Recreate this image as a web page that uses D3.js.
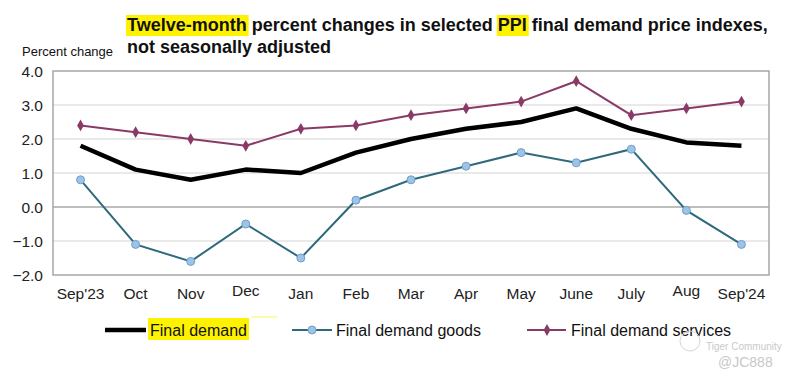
<!DOCTYPE html>
<html>
<head>
<meta charset="utf-8">
<script src="https://cdn.jsdelivr.net/npm/d3@7"></script>
<style>
  html, body { margin: 0; padding: 0; background: #fff; }
  svg { display: block; font-family: "Liberation Sans", Arial, sans-serif; }
</style>
</head>
<body>
<svg id="chart" width="788" height="379"></svg>
<script>
// PPI twelve-month changes, Sep 2023 - Sep 2024
const months = ["Sep'23", "Oct", "Nov", "Dec", "Jan", "Feb", "Mar", "Apr", "May", "June", "July", "Aug", "Sep'24"];
const finalDemand = [1.8, 1.1, 0.8, 1.1, 1.0, 1.6, 2.0, 2.3, 2.5, 2.9, 2.3, 1.9, 1.8];
const finalGoods = [0.8, -1.1, -1.6, -0.5, -1.5, 0.2, 0.8, 1.2, 1.6, 1.3, 1.7, -0.1, -1.1];
const finalServices = [2.4, 2.2, 2.0, 1.8, 2.3, 2.4, 2.7, 2.9, 3.1, 3.7, 2.7, 2.9, 3.1];
const yTicks = [-2, -1, 0, 1, 2, 3, 4];

const svg = d3.select("#chart");
const plot = { left: 53, right: 769, top: 71, bottom: 275 };

const x = d3.scaleBand().domain(months).range([plot.left, plot.right]);
const xc = m => x(m) + x.bandwidth() / 2;
const y = d3.scaleLinear().domain([-2, 4]).range([plot.bottom, plot.top]);

const hl = "#fff200";

// title, with highlights behind "Twelve-month" and "PPI"
const hlLayer = svg.append("g");
const t1 = svg.append("text")
  .attr("x", 127).attr("y", 31)
  .attr("font-size", 18).attr("font-weight", "bold").attr("fill", "#111");
const parts = [
  { s: "Twelve-month", mark: true },
  { s: " percent changes in selected ", mark: false },
  { s: "PPI", mark: true },
  { s: " final demand price indexes,", mark: false }
];
parts.forEach(p => t1.append("tspan").text(p.s));
let pos = 0;
parts.forEach(p => {
  if (p.mark) {
    const node = t1.node();
    const x0 = node.getStartPositionOfChar(pos).x;
    const x1 = node.getEndPositionOfChar(pos + p.s.length - 1).x;
    hlLayer.append("rect").attr("x", x0 - 1).attr("y", 15)
      .attr("width", x1 - x0 + 3).attr("height", 21).attr("fill", hl);
  }
  pos += p.s.length;
});
svg.append("text")
  .attr("x", 127).attr("y", 53)
  .attr("font-size", 18).attr("font-weight", "bold").attr("fill", "#111")
  .text("not seasonally adjusted");

svg.append("text")
  .attr("x", 22).attr("y", 56)
  .attr("font-family", "'Liberation Sans Narrow', 'Liberation Sans', Arial, sans-serif")
  .attr("font-size", 13).attr("fill", "#111")
  .text("Percent change");

// gridlines
svg.append("g")
  .selectAll("line")
  .data(yTicks.filter(t => t > -2 && t < 4))
  .join("line")
  .attr("x1", plot.left).attr("x2", plot.right)
  .attr("y1", d => y(d)).attr("y2", d => y(d))
  .attr("stroke", d => d === 0 ? "#7f7f7f" : "#d4d4d4")
  .attr("stroke-width", d => d === 0 ? 1.2 : 1);

// plot frame
svg.append("rect")
  .attr("x", plot.left).attr("y", plot.top)
  .attr("width", plot.right - plot.left).attr("height", plot.bottom - plot.top)
  .attr("fill", "none").attr("stroke", "#a6a6a6").attr("stroke-width", 1.5);

// y axis labels
const yAxis = svg.append("g")
  .attr("transform", `translate(${plot.left - 10},0)`)
  .call(d3.axisLeft(y).tickValues(yTicks).tickFormat(d3.format(".1f")).tickSize(0));
yAxis.select(".domain").remove();
yAxis.selectAll("text")
  .attr("font-size", 15.5).attr("fill", "#222")
  .attr("font-family", "'Liberation Sans', Arial, sans-serif")
  .attr("dy", "0.35em").attr("x", 0);

// x axis labels
const xAxis = svg.append("g")
  .attr("transform", `translate(0,${plot.bottom})`)
  .call(d3.axisBottom(x).tickSize(0));
xAxis.select(".domain").remove();
xAxis.selectAll("text")
  .attr("font-size", 15.5).attr("fill", "#222")
  .attr("font-family", "'Liberation Sans', Arial, sans-serif")
  .attr("y", d => (d === "Dec" || d === "Aug") ? 10 : 13)
  .attr("dy", "0.71em");

const line = d3.line().x((d, i) => xc(months[i])).y(d => y(d));

const colGoods = "#2f6a7c";
const colServ = "#8a3a66";

// services
svg.append("path").datum(finalServices)
  .attr("d", line).attr("fill", "none")
  .attr("stroke", colServ).attr("stroke-width", 2);
svg.append("g").selectAll("path")
  .data(finalServices)
  .join("path")
  .attr("d", d3.symbol(d3.symbolDiamond, 40))
  .attr("transform", (d, i) => `translate(${xc(months[i])},${y(d)})`)
  .attr("fill", colServ);

// goods
svg.append("path").datum(finalGoods)
  .attr("d", line).attr("fill", "none")
  .attr("stroke", colGoods).attr("stroke-width", 2);
svg.append("g").selectAll("circle")
  .data(finalGoods)
  .join("circle")
  .attr("cx", (d, i) => xc(months[i])).attr("cy", d => y(d))
  .attr("r", 4)
  .attr("fill", "#9dc3e6").attr("stroke", "#6f9fcb").attr("stroke-width", 1);

// final demand
svg.append("path").datum(finalDemand)
  .attr("d", line).attr("fill", "none")
  .attr("stroke", "#000").attr("stroke-width", 4.5)
  .attr("stroke-linejoin", "round");

// legend
const leg = svg.append("g").attr("font-size", 16).attr("fill", "#111");
leg.append("rect").attr("x", 148).attr("y", 318).attr("width", 101).attr("height", 22).attr("fill", hl);
leg.append("rect").attr("x", 252).attr("y", 316).attr("width", 25).attr("height", 2).attr("fill", "#fff9a8");
leg.append("line").attr("x1", 105).attr("x2", 146).attr("y1", 330).attr("y2", 330)
  .attr("stroke", "#000").attr("stroke-width", 4.5);
leg.append("text").attr("x", 150).attr("y", 336).text("Final demand");

leg.append("line").attr("x1", 292).attr("x2", 332).attr("y1", 330).attr("y2", 330)
  .attr("stroke", colGoods).attr("stroke-width", 2);
leg.append("circle").attr("cx", 312).attr("cy", 330).attr("r", 4)
  .attr("fill", "#9dc3e6").attr("stroke", "#6f9fcb");
leg.append("text").attr("x", 336).attr("y", 336).text("Final demand goods");

leg.append("line").attr("x1", 527).attr("x2", 566).attr("y1", 330).attr("y2", 330)
  .attr("stroke", colServ).attr("stroke-width", 2);
leg.append("path").attr("d", d3.symbol(d3.symbolDiamond, 40))
  .attr("transform", "translate(547,330)").attr("fill", colServ);
leg.append("text").attr("x", 571).attr("y", 336).text("Final demand services");

// watermark
svg.append("circle").attr("cx", 690).attr("cy", 341).attr("r", 10)
  .attr("fill", "none").attr("stroke", "#d6d6d6").attr("stroke-width", 1);
svg.append("text").attr("x", 706).attr("y", 350).attr("font-size", 10)
  .attr("fill", "#cacaca").text("Tiger Community");
svg.append("text").attr("x", 718).attr("y", 367).attr("font-size", 14)
  .attr("fill", "#c8c8c8").text("@JC888");
</script>
</body>
</html>
